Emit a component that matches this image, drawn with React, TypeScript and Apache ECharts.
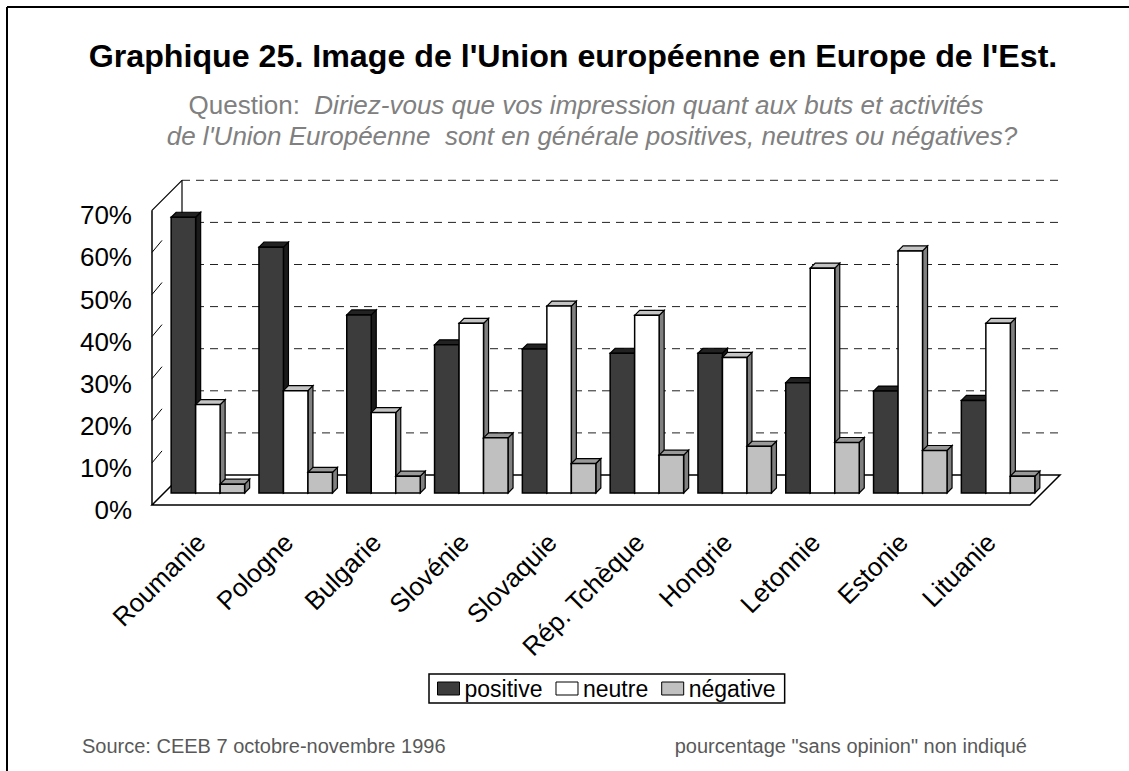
import React, { useEffect, useRef } from 'react';
import * as echarts from 'echarts';

const categories = ['Roumanie', 'Pologne', 'Bulgarie', 'Slovénie', 'Slovaquie', 'Rép. Tchèque', 'Hongrie', 'Letonnie', 'Estonie', 'Lituanie'];
const positive = [65.5, 58.4, 42.3, 35.2, 34.2, 33.2, 33.2, 26.2, 24.2, 22.0];
const neutre = [21.0, 24.3, 19.1, 40.3, 44.4, 42.2, 32.2, 53.4, 57.5, 40.3];
const negative = [2.1, 4.9, 4.0, 13.1, 7.0, 9.0, 11.1, 12.0, 10.1, 4.0];
const seriesNames = ['positive', 'neutre', 'négative'];
const yTicks = [0, 10, 20, 30, 40, 50, 60, 70];

const FONT = '"Liberation Sans", Arial, sans-serif';
const DEPTH = 30;
const BAR_OFF = 12;
const BAR_D = 5;
const BAR_W = 0.279;

const faces = [
  { front: '#3c3c3c', top: '#222222', side: '#1a1a1a' },
  { front: '#ffffff', top: '#c4c4c4', side: '#808080' },
  { front: '#c0c0c0', top: '#999999', side: '#808080' },
];

function barRenderer(s: number) {
  return (params: any, api: any) => {
    const i = api.value(0);
    const v = api.value(1);
    const base = api.coord([i, 0]);
    const top = api.coord([i, v]);
    const band = api.size([1, 0])[0];
    const w = band * BAR_W;
    const cx = base[0] + BAR_OFF;
    const xL = cx - 1.5 * w + s * w;
    const yB = base[1] - BAR_OFF;
    const yT = top[1] - BAR_OFF;
    const d = BAR_D;
    const c = faces[s];
    return {
      type: 'group',
      children: [
        { type: 'polygon', shape: { points: [[xL + w, yT], [xL + w + d, yT - d], [xL + w + d, yB - d], [xL + w, yB]] }, style: { fill: c.side, stroke: '#000', lineWidth: 1.2 } },
        { type: 'polygon', shape: { points: [[xL, yT], [xL + d, yT - d], [xL + w + d, yT - d], [xL + w, yT]] }, style: { fill: c.top, stroke: '#000', lineWidth: 1.2 } },
        { type: 'rect', shape: { x: xL, y: yT, width: w, height: yB - yT }, style: { fill: c.front, stroke: '#000', lineWidth: 1.5 } },
      ],
    };
  };
}

function wallRenderer(params: any, api: any) {
  const v = api.value(1);
  const cs = params.coordSys;
  const x0 = cs.x;
  const x1 = cs.x + cs.width;
  const y = api.coord([0, v])[1];
  const y0 = api.coord([0, 0])[1];
  const D = DEPTH;
  const children: any[] = [];
  if (v > 0) {
    children.push({ type: 'line', shape: { x1: x0 + D, y1: y - D, x2: x1 + D, y2: y - D }, style: { stroke: '#222', lineWidth: 1, lineDash: [8, 6] } });
  }
  if (v > 0 && v < 70) {
    children.push({ type: 'line', shape: { x1: x0, y1: y, x2: x0 + 10, y2: y - 12 }, style: { stroke: '#000', lineWidth: 1 } });
  }
  if (v === 0) {
    children.push({ type: 'polygon', shape: { points: [[x0, y], [x1, y], [x1 + D, y - D], [x0 + D, y - D]] }, style: { fill: 'none', stroke: '#000', lineWidth: 1.5 } });
  }
  if (v === 70) {
    children.push({ type: 'line', shape: { x1: x0, y1: y, x2: x0 + D, y2: y - D }, style: { stroke: '#000', lineWidth: 1.2 } });
    children.push({ type: 'line', shape: { x1: x0, y1: y, x2: x0, y2: y0 }, style: { stroke: '#000', lineWidth: 1.5 } });
    children.push({ type: 'line', shape: { x1: x0 + D, y1: y - D, x2: x0 + D, y2: y0 - D }, style: { stroke: '#000', lineWidth: 1.2 } });
  }
  return { type: 'group', children };
}

export default function App() {
  const ref = useRef<HTMLDivElement>(null);
  useEffect(() => {
    if (!ref.current) return;
    const chart = echarts.init(ref.current, null, { renderer: 'svg' });
    const values = [positive, neutre, negative];
    chart.setOption({
      animation: false,
      backgroundColor: '#ffffff',
      textStyle: { fontFamily: FONT },
      grid: [
        { left: 152, top: 210.3, width: 878, height: 294.7 },
        // label plane: category labels sit slightly into the floor depth
        { left: 157, top: 210.3, width: 878, height: 294.7 },
      ],
      xAxis: [
        {
          type: 'category',
          gridIndex: 0,
          data: categories,
          axisLine: { show: false },
          axisTick: { show: false },
          axisLabel: { show: false },
        },
        {
          type: 'category',
          gridIndex: 1,
          data: categories,
          axisLine: { show: false },
          axisTick: { show: false },
          axisLabel: { rotate: 45, interval: 0, margin: 33, fontSize: 26, color: '#000', fontFamily: FONT },
        },
      ],
      yAxis: [
        {
          type: 'value',
          gridIndex: 0,
          min: 0,
          max: 70,
          interval: 10,
          axisLine: { show: false },
          axisTick: { show: false },
          splitLine: { show: false },
          axisLabel: { formatter: '{value}%', fontSize: 26, color: '#000', margin: 20, verticalAlign: 'top', lineHeight: 10, fontFamily: FONT },
        },
        {
          type: 'value',
          gridIndex: 1,
          min: 0,
          max: 70,
          interval: 10,
          show: false,
        },
      ],
      legend: {
        data: seriesNames,
        left: 429,
        top: 674,
        orient: 'horizontal',
        icon: 'rect',
        itemWidth: 22,
        itemHeight: 13,
        itemGap: 13,
        padding: [3, 9, 3, 8],
        borderColor: '#000',
        borderWidth: 1.5,
        borderRadius: 0,
        itemStyle: { borderColor: '#000', borderWidth: 1 },
        textStyle: { fontSize: 23, color: '#000', fontFamily: FONT },
      },
      graphic: [
        { type: 'line', shape: { x1: 7, y1: 7, x2: 7, y2: 771 }, style: { stroke: '#000', lineWidth: 2 } },
        { type: 'line', shape: { x1: 7, y1: 7, x2: 1129, y2: 7 }, style: { stroke: '#000', lineWidth: 2 } },
        { type: 'text', x: 573, y: 56, style: { text: "Graphique 25. Image de l'Union européenne en Europe de l'Est.", font: `bold 32.2px ${FONT}`, fill: '#000', align: 'center', verticalAlign: 'middle' } },
        {
          type: 'text', x: 586, y: 105,
          style: {
            text: '{n|Question:  }{i|Diriez-vous que vos impression quant aux buts et activités}',
            align: 'center', verticalAlign: 'middle',
            rich: {
              n: { fontSize: 26, fontFamily: FONT, fill: '#808080', color: '#808080' },
              i: { fontSize: 26, fontFamily: FONT, fontStyle: 'italic', fill: '#808080', color: '#808080' },
            },
          },
        },
        { type: 'text', x: 592, y: 136, style: { text: "de l'Union Européenne  sont en générale positives, neutres ou négatives?", font: `italic 26px ${FONT}`, fill: '#808080', align: 'center', verticalAlign: 'middle' } },
        { type: 'text', x: 82, y: 746, style: { text: 'Source: CEEB 7 octobre-novembre 1996', font: `20px ${FONT}`, fill: '#595959', align: 'left', verticalAlign: 'middle' } },
        { type: 'text', x: 1027, y: 746, style: { text: 'pourcentage "sans opinion" non indiqué', font: `20px ${FONT}`, fill: '#595959', align: 'right', verticalAlign: 'middle' } },
      ],
      series: [
        {
          type: 'custom',
          name: 'walls',
          renderItem: wallRenderer,
          xAxisIndex: 0,
          yAxisIndex: 0,
          data: yTicks.map((v) => [0, v]),
          encode: { x: 0, y: 1 },
          silent: true,
          z: 1,
        },
        ...seriesNames.map((name, s) => ({
          type: 'custom',
          name,
          xAxisIndex: 0,
          yAxisIndex: 0,
          renderItem: barRenderer(s),
          data: values[s].map((v, i) => [i, v]),
          encode: { x: 0, y: 1 },
          itemStyle: { color: faces[s].front, borderColor: '#000', borderWidth: 1 },
          z: 2 + s,
        })),
      ],
    });
    return () => chart.dispose();
  }, []);
  return <div ref={ref} style={{ position: 'fixed', left: 0, top: 0, width: 1129, height: 771, background: '#fff' }} />;
}
